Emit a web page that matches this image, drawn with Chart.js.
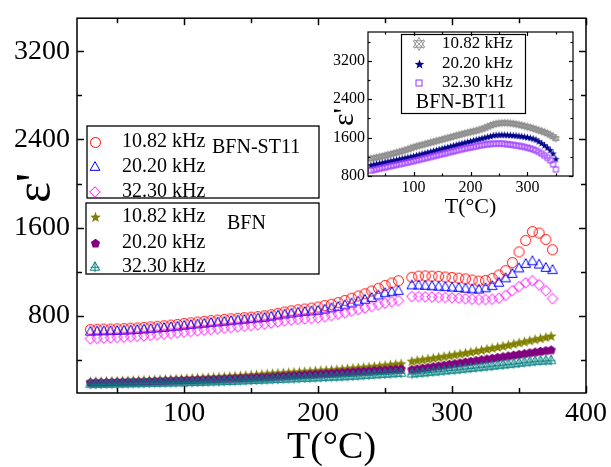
<!DOCTYPE html>
<html><head><meta charset="utf-8">
<script src="https://cdn.jsdelivr.net/npm/chart.js@4/dist/chart.umd.min.js"></script>
<style>
html,body{margin:0;padding:0;background:#fff;}
#wrap{position:relative;width:611px;height:467px;overflow:hidden;}
#main{position:absolute;left:0;top:0;}
#inset{position:absolute;left:330px;top:20px;}
</style></head><body>
<div id="wrap"><canvas id="main" width="611" height="467"></canvas><canvas id="inset" width="260" height="205"></canvas></div>
<script>
// ---------- DATA ----------
const tempST = [30,35,40,45,50,55,60,65,70,75,80,85,90,95,100,105,110,115,120,125,130,135,140,145,150,155,160,165,170,175,180,185,190,195,200,205,210,215,220,225,230,235,240,245,250,255,260,
  270,275,280,285,290,295,300,305,310,315,320,325,330,335,340,345,350,355,360,365,370,375];
const st11_1082 = [675,678,680,680,682,684,688,690,695,700,705,710,716,722,730,737,744,750,756,762,768,773,778,783,788,793,800,810,822,835,845,855,862,870,880,893,905,920,940,960,980,1000,1025,1050,1075,1098,1118,
  1150,1160,1162,1160,1158,1152,1148,1142,1135,1125,1115,1120,1140,1170,1210,1283,1380,1483,1564,1551,1492,1399];
const st11_2020 = [656,658,660,661,663,665,668,671,675,680,685,690,696,702,710,716,722,728,734,740,746,752,758,764,770,776,782,792,802,812,820,828,835,840,845,856,868,880,895,912,930,945,962,985,1005,1015,1025,
  1076,1075,1072,1068,1064,1060,1056,1052,1046,1040,1038,1050,1070,1100,1140,1180,1230,1270,1295,1265,1235,1215];
const st11_3230 = [592,595,598,600,603,606,610,614,618,623,628,634,640,646,652,658,664,670,676,682,688,694,700,706,712,718,725,735,745,755,762,768,772,777,782,792,803,815,828,842,856,870,885,900,915,928,938,
  975,975,972,970,968,966,964,960,955,950,948,948,950,960,985,1028,1065,1100,1118,1082,1028,956];

const tempBFN = [30,34,38,42,46,50,54,58,62,66,70,74,78,82,86,90,94,98,102,106,110,114,118,122,126,130,134,138,142,146,150,154,158,162,166,170,174,178,182,186,190,194,198,202,206,210,214,218,222,226,230,234,238,242,246,250,254,258,262,
  270,274,278,282,286,290,294,298,302,306,310,314,318,322,326,330,334,338,342,346,350,354,358,362,366,370,374];
const bfn_1082 = [200,201,202,203,204,205,207,208,210,211,213,214,216,218,220,222,224,226,228,230,232,234,237,239,242,244,247,250,253,256,259,262,266,270,273,276,279,282,285,288,291,294,297,300,303,306,309,313,317,321,325,329,333,337,342,347,352,357,362,
  385,392,399,406,413,421,428,436,444,452,460,468,477,486,495,504,513,522,532,542,552,562,572,582,592,602,613];
const bfn_2020 = [192,193,194,195,196,197,198,199,200,201,202,204,205,206,208,209,211,212,214,215,217,218,220,222,224,226,228,230,232,234,236,238,240,242,245,248,251,254,257,260,263,266,269,272,275,278,281,284,287,290,293,296,299,302,305,308,311,314,317,
  311,317,324,330,337,344,351,358,365,372,379,386,393,400,407,414,421,428,435,442,449,456,463,470,477,483,489];
const bfn_3230 = [180,181,182,183,184,185,186,187,188,189,190,191,192,193,194,195,196,197,198,199,200,202,203,205,206,208,209,211,213,215,217,219,221,223,225,227,229,231,233,235,237,239,241,243,245,247,249,251,253,256,259,262,265,268,271,274,277,280,282,
  276,280,285,289,294,298,303,308,312,317,322,327,332,337,342,347,352,357,362,367,373,378,384,389,393,395,397];

const tempBT = [25,30,35,40,45,50,55,60,65,70,75,80,85,90,95,100,105,110,115,120,125,130,135,140,145,150,155,160,165,170,175,180,185,190,195,200,205,210,215,220,225,230,235,240,245,250,255,260,265,270,275,280,285,290,295,300,305,310,315,320,325,330,335,340,345,350];
const bt11_1082 = [1160,1172,1185,1198,1211,1225,1240,1255,1270,1286,1302,1320,1338,1356,1378,1400,1416,1432,1448,1464,1480,1496,1512,1528,1544,1560,1576,1592,1608,1624,1640,1656,1672,1688,1702,1716,1730,1744,1760,1778,1800,1825,1850,1872,1888,1898,1904,1906,1904,1898,1890,1880,1868,1855,1840,1825,1810,1792,1772,1752,1732,1712,1685,1655,1620,1580];
const bt11_2020 = [1020,1033,1045,1058,1070,1083,1096,1108,1121,1133,1146,1159,1171,1184,1196,1209,1225,1240,1256,1272,1287,1303,1318,1334,1350,1365,1381,1396,1412,1428,1443,1459,1474,1490,1505,1520,1535,1550,1565,1580,1595,1610,1625,1640,1648,1652,1653,1652,1650,1647,1642,1636,1630,1622,1613,1603,1590,1574,1552,1515,1478,1435,1388,1335,1260,1150];
const bt11_3230 = [915,928,941,954,967,980,994,1007,1020,1033,1046,1059,1072,1085,1098,1111,1126,1140,1155,1169,1184,1198,1213,1227,1242,1256,1271,1285,1300,1314,1329,1343,1358,1372,1384,1396,1408,1420,1432,1444,1454,1462,1468,1472,1475,1476,1476,1470,1462,1455,1447,1438,1428,1416,1404,1390,1374,1354,1330,1300,1266,1225,1180,1126,1045,937];

const freqLabels = ['10.82 kHz','20.20 kHz','32.30 kHz'];
const mainXTicks = [100,200,300,400];
const mainXMinor = [50,150,250,350];
const mainYTicks = [800,1600,2400,3200];
const mainYMinor = [400,1200,2000,2800];
const insetXTicks = [100,200,300];
const insetXMinor = [50,150,250,350];
const insetYTicks = [800,1600,2400,3200];
const insetYMinor = [1200,2000,2800,3600];

// ---------- MARKERS ----------
const FONT = "'Liberation Serif','Times New Roman',serif";
function mk(size, draw){const c=document.createElement('canvas');c.width=size;c.height=size;const g=c.getContext('2d');g.translate(size/2,size/2);draw(g);return c;}
function poly(g,pts){g.beginPath();pts.forEach((p,i)=>i?g.lineTo(p[0],p[1]):g.moveTo(p[0],p[1]));g.closePath();}
function starPts(R,r){const p=[];for(let i=0;i<10;i++){const a=-Math.PI/2+i*Math.PI/5;const rr=i%2?r:R;p.push([rr*Math.cos(a),rr*Math.sin(a)]);}return p;}
function pentPts(R){const p=[];for(let i=0;i<5;i++){const a=-Math.PI/2+i*2*Math.PI/5;p.push([R*Math.cos(a),R*Math.sin(a)]);}return p;}
const circleM = s=>mk(Math.ceil(s*2+3),g=>{g.strokeStyle='#ff0000';g.lineWidth=1;g.beginPath();g.arc(0,0,s,0,2*Math.PI);g.stroke();});
const triM = s=>mk(Math.ceil(s*2+3),g=>{g.strokeStyle='#0000ff';g.lineWidth=1;poly(g,[[0,-s],[s*0.9,s*0.62],[-s*0.9,s*0.62]]);g.stroke();});
const diaM = s=>mk(Math.ceil(s*2+3),g=>{g.strokeStyle='#ff00ff';g.lineWidth=1;poly(g,[[0,-s],[s,0],[0,s],[-s,0]]);g.stroke();});
const starM = (s,col)=>mk(Math.ceil(s*2+3),g=>{g.fillStyle=col;poly(g,starPts(s,s*0.42));g.fill();});
const pentM = s=>mk(Math.ceil(s*2+3),g=>{g.fillStyle='#800080';poly(g,pentPts(s));g.fill();});
const triCrossM = s=>mk(Math.ceil(s*2+3),g=>{g.strokeStyle='#008080';g.lineWidth=1;poly(g,[[0,-s],[s*0.9,s*0.62],[-s*0.9,s*0.62]]);g.stroke();g.beginPath();g.moveTo(0,-s);g.lineTo(0,s);g.moveTo(-s*0.85,0.05*s);g.lineTo(s*0.85,0.05*s);g.stroke();});
const grayM = s=>mk(Math.ceil(s*2+3),g=>{g.strokeStyle='#8c8c8c';g.lineWidth=0.9;poly(g,[[0,-s],[s*0.87,s*0.5],[-s*0.87,s*0.5]]);g.stroke();poly(g,[[0,s],[s*0.87,-s*0.5],[-s*0.87,-s*0.5]]);g.stroke();g.beginPath();g.moveTo(-s*0.7,-s*0.7);g.lineTo(s*0.7,s*0.7);g.moveTo(s*0.7,-s*0.7);g.lineTo(-s*0.7,s*0.7);g.stroke();});
const squareM = s=>mk(Math.ceil(s*2+3),g=>{g.strokeStyle='#9b30ff';g.lineWidth=1;g.strokeRect(-s+0.5,-s+0.5,2*s-1,2*s-1);});

const mk_red = circleM(5), mk_blue = triM(5.4), mk_mag = diaM(5.3);
const mk_olive = starM(5.7,'#808000'), mk_purp = pentM(4.8), mk_teal = triCrossM(5.2);
const mk_gray = grayM(3.8), mk_navy = starM(3.9,'#00008b'), mk_sq = squareM(3);
const lg_gray = grayM(6.5), lg_navy = starM(5,'#00008b'), lg_sq = squareM(3.5);

function pts(xs,ys){return xs.map((x,i)=>({x:x,y:ys[i]}));}
function ds(label,xs,ys,style,order){return {label:label,data:pts(xs,ys),pointStyle:style,pointRadius:5,showLine:false,order:order};}

// ---------- PLUGINS ----------
const framePlugin = {
  id:'frame',
  afterDraw(chart,args,o){
    const ctx=chart.ctx,a=chart.chartArea,x=chart.scales.x,y=chart.scales.y;
    ctx.save();ctx.strokeStyle='#000';ctx.lineWidth=o.lw;
    const L=(x1,y1,x2,y2)=>{ctx.beginPath();ctx.moveTo(x1,y1);ctx.lineTo(x2,y2);ctx.stroke();};
    const xt=(vals,len)=>vals.forEach(v=>{const p=Math.round(x.getPixelForValue(v))+0.5;L(p,a.bottom,p,a.bottom-len);L(p,a.top,p,a.top+len);});
    const yt=(vals,len)=>vals.forEach(v=>{const p=Math.round(y.getPixelForValue(v))+0.5;L(a.left,p,a.left+len,p);L(a.right,p,a.right-len,p);});
    xt(o.xMajor,o.major);xt(o.xMinor,o.minor);yt(o.yMajor,o.major);yt(o.yMinor,o.minor);
    ctx.strokeRect(a.left,a.top,a.right-a.left,a.bottom-a.top);
    ctx.restore();
  }
};
const textPlugin = {
  id:'texts',
  afterDraw(chart,args,o){
    const ctx=chart.ctx;ctx.save();ctx.fillStyle='#000';
    (o.boxes||[]).forEach(b=>{ctx.strokeStyle='#000';ctx.lineWidth=b.lw;ctx.strokeRect(b.x,b.y,b.w,b.h);});
    (o.items||[]).forEach(it=>{ if(it.img){ctx.drawImage(it.img,Math.round(it.x-it.img.width/2),Math.round(it.y-it.img.height/2));}
      if(it.text){ctx.font=it.font;ctx.textAlign=it.align||'left';ctx.textBaseline='middle';ctx.fillText(it.text,it.tx,it.y);} });
    (o.labels||[]).forEach(l=>{ctx.save();ctx.translate(l.x,l.y);if(l.rot)ctx.rotate(l.rot);ctx.font=l.font;ctx.textAlign='center';ctx.textBaseline=l.base||'middle';ctx.fillText(l.text,0,0);ctx.restore();});
    ctx.restore();
  }
};
const fmt = v=>String(v);

// ---------- MAIN CHART ----------
new Chart(document.getElementById('main'),{
  type:'scatter',
  data:{datasets:[
    ds(freqLabels[0]+' BFN-ST11',tempST,st11_1082,mk_red,6),
    ds(freqLabels[1]+' BFN-ST11',tempST,st11_2020,mk_blue,5),
    ds(freqLabels[2]+' BFN-ST11',tempST,st11_3230,mk_mag,4),
    ds(freqLabels[0]+' BFN',tempBFN,bfn_1082,mk_olive,3),
    ds(freqLabels[1]+' BFN',tempBFN,bfn_2020,mk_purp,2),
    ds(freqLabels[2]+' BFN',tempBFN,bfn_3230,mk_teal,1)
  ]},
  options:{
    responsive:false,animation:false,devicePixelRatio:1,
    layout:{padding:{top:12,right:23,left:0,bottom:0}},
    plugins:{legend:{display:false},tooltip:{enabled:false},
      frame:{lw:1.5,major:7,minor:5,xMajor:mainXTicks,xMinor:mainXMinor,yMajor:mainYTicks,yMinor:mainYMinor},
      texts:{
        boxes:[{x:87,y:126,w:232,h:72,lw:1.3},{x:86,y:203,w:233,h:71,lw:1.3}],
        items:[
          {img:mk_red,x:95,y:142,text:freqLabels[0],tx:122,font:'20px '+FONT},
          {img:mk_blue,x:95,y:167,text:freqLabels[1],tx:122,font:'20px '+FONT},
          {img:mk_mag,x:95,y:192,text:freqLabels[2],tx:122,font:'20px '+FONT},
          {text:'BFN-ST11',tx:212,y:148,font:'20px '+FONT},
          {img:mk_olive,x:95,y:217,text:freqLabels[0],tx:122,font:'20px '+FONT},
          {img:mk_purp,x:95,y:243,text:freqLabels[1],tx:122,font:'20px '+FONT},
          {img:mk_teal,x:95,y:267,text:freqLabels[2],tx:122,font:'20px '+FONT},
          {text:'BFN',tx:227,y:224,font:'20px '+FONT}
        ],
        labels:[{text:"ε'",x:50,y:188,rot:-Math.PI/2,font:'50px '+FONT,base:'alphabetic'}]
      }
    },
    scales:{
      x:{type:'linear',min:20,max:400,grid:{display:false,drawTicks:false,tickLength:0},border:{display:false},
        ticks:{font:{family:FONT,size:28},color:'#000',padding:4,maxRotation:0,callback:fmt},
        afterBuildTicks:s=>{s.ticks=mainXTicks.map(v=>({value:v}));},
        afterFit:s=>{s.height=74;},
        title:{display:true,text:'T(°C)',font:{family:FONT,size:38,lineHeight:1.0},color:'#000',padding:{top:0,bottom:0}}},
      y:{type:'linear',min:100,max:3500,grid:{display:false,drawTicks:false,tickLength:0},border:{display:false},
        ticks:{font:{family:FONT,size:28,lineHeight:0.8},color:'#000',padding:7,callback:fmt},
        afterBuildTicks:s=>{s.ticks=mainYTicks.map(v=>({value:v}));},
        afterFit:s=>{s.width=77;}}
    }
  },
  plugins:[framePlugin,textPlugin]
});

// ---------- INSET CHART ----------
new Chart(document.getElementById('inset'),{
  type:'scatter',
  data:{datasets:[
    Object.assign(ds(freqLabels[0]+' BFN-BT11',tempBT,bt11_1082,mk_gray,3),{pointRadius:3}),
    Object.assign(ds(freqLabels[1]+' BFN-BT11',tempBT,bt11_2020,mk_navy,2),{pointRadius:3}),
    Object.assign(ds(freqLabels[2]+' BFN-BT11',tempBT,bt11_3230,mk_sq,1),{pointRadius:3})
  ]},
  options:{
    responsive:false,animation:false,devicePixelRatio:1,
    layout:{padding:{top:12,right:17,left:0,bottom:0}},
    plugins:{legend:{display:false},tooltip:{enabled:false},
      frame:{lw:1.2,major:4,minor:2.5,xMajor:insetXTicks,xMinor:insetXMinor,yMajor:insetYTicks,yMinor:insetYMinor},
      texts:{
        boxes:[{x:71.5,y:14.5,w:124,h:79,lw:1.2}],
        items:[
          {img:lg_gray,x:89,y:24,text:freqLabels[0],tx:112,font:'17px '+FONT},
          {img:lg_navy,x:89,y:44,text:freqLabels[1],tx:112,font:'17px '+FONT},
          {img:lg_sq,x:89,y:63,text:freqLabels[2],tx:112,font:'17px '+FONT},
          {text:'BFN-BT11',tx:131,y:83,font:'20px '+FONT,align:'center'}
        ],
        labels:[{text:"ε'",x:23,y:97,rot:-Math.PI/2,font:'30px '+FONT,base:'alphabetic'}]
      }
    },
    scales:{
      x:{type:'linear',min:20,max:380,grid:{display:false,drawTicks:false,tickLength:0},border:{display:false},
        ticks:{font:{family:FONT,size:16},color:'#000',padding:2,maxRotation:0,callback:fmt},
        afterBuildTicks:s=>{s.ticks=insetXTicks.map(v=>({value:v}));},
        afterFit:s=>{s.height=49;},
        title:{display:true,text:'T(°C)',font:{family:FONT,size:22},color:'#000',padding:{top:0,bottom:5}}},
      y:{type:'linear',min:800,max:3800,grid:{display:false,drawTicks:false,tickLength:0},border:{display:false},
        ticks:{font:{family:FONT,size:16,lineHeight:0.8},color:'#000',padding:3,callback:fmt},
        afterBuildTicks:s=>{s.ticks=insetYTicks.map(v=>({value:v}));},
        afterFit:s=>{s.width=38;}}
    }
  },
  plugins:[framePlugin,textPlugin]
});
</script>
</body></html>
